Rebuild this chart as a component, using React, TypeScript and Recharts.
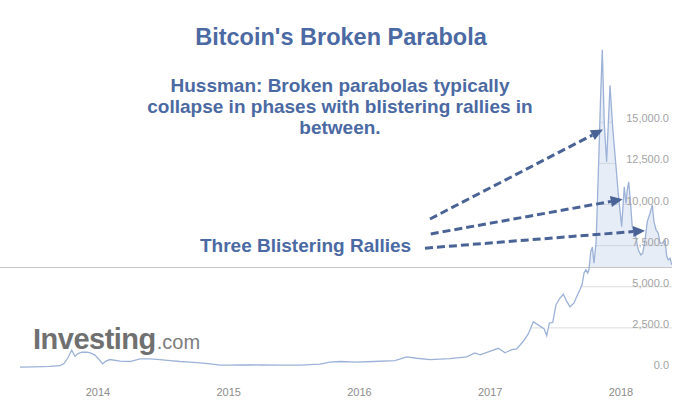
import { ComposedChart, Area, Line, XAxis, YAxis, CartesianGrid, ReferenceLine, ReferenceArea } from 'recharts'

// time in decimal years, price in USD
const times = [
  2013.403, 2013.518, 2013.633, 2013.709, 2013.74, 2013.771, 2013.799, 2013.824, 2013.847, 2013.878,
  2013.916, 2013.946, 2013.977, 2014.008, 2014.036, 2014.061, 2014.092, 2014.168, 2014.245, 2014.321,
  2014.398, 2014.474, 2014.551, 2014.627, 2014.704, 2014.78, 2014.857, 2014.933, 2015.01, 2015.086,
  2015.239, 2015.392, 2015.545, 2015.698, 2015.774, 2015.851, 2015.979, 2016.106, 2016.271, 2016.361,
  2016.437, 2016.539, 2016.692, 2016.82, 2016.883, 2016.922, 2016.985, 2017.062, 2017.113, 2017.164,
  2017.202, 2017.253, 2017.291, 2017.329, 2017.375, 2017.411, 2017.432, 2017.452, 2017.478, 2017.503,
  2017.533, 2017.559, 2017.585, 2017.61, 2017.641, 2017.664, 2017.686, 2017.702, 2017.717, 2017.732,
  2017.745, 2017.755, 2017.768, 2017.781, 2017.793, 2017.809, 2017.82, 2017.832, 2017.843, 2017.857,
  2017.872, 2017.89, 2017.916, 2017.936, 2017.962, 2017.979, 2018.005, 2018.025, 2018.038, 2018.048,
  2018.059, 2018.069, 2018.086, 2018.107, 2018.132, 2018.151, 2018.166, 2018.184, 2018.201, 2018.222,
  2018.239, 2018.252, 2018.268, 2018.285, 2018.298, 2018.316, 2018.337, 2018.35, 2018.362, 2018.375,
  2018.388,
]
const prices = [
  110, 133, 164, 200, 333, 697, 1139, 776, 939, 1018,
  1030, 970, 848, 576, 315, 485, 576, 473, 455, 618,
  618, 576, 515, 455, 412, 376, 315, 230, 230, 255,
  242, 230, 230, 291, 412, 455, 412, 455, 515, 739,
  654, 576, 636, 739, 982, 861, 1042, 1260, 982, 1182,
  1224, 1685, 2133, 2879, 2636, 2454, 2030, 2800, 2836, 3909,
  4315, 4545, 4109, 3769, 4012, 4454, 4818, 5121, 5830, 6030,
  5830, 6030, 7120, 7405, 6436, 7648, 10272, 13300, 16330, 19404,
  14920, 12593, 17241, 14714, 12290, 10678, 8654, 11078, 10072, 10878,
  11381, 10472, 8654, 8254, 7242, 6939, 7042, 7848, 8957, 9466,
  9969, 8957, 8454, 8254, 7648, 7648, 7848, 6836, 6636, 6739,
  6333,
]
const BASE_PRICE = 6170
const yTicks = [0, 2500, 5000, 7500, 10000, 12500, 15000]
const xTicks = [2014, 2015, 2016, 2017, 2018]
const X_START = 2013.2505
const X_END = 2018.39
const Y_TOP = 20000
const subtitleLines = [
  'Hussman: Broken parabolas typically',
  'collapse in phases with blistering rallies in',
  'between.',
]
// arrows: [startTime, startPrice, endTime, endPrice]
const arrows = [
  [2016.539, 9120, 2017.862, 14556],
  [2016.545, 8211, 2018.013, 10314],
  [2016.501, 7345, 2018.184, 8411],
]

const data = times.map((t, i) => ({ t, price: prices[i] }))

const BLUE = '#4b69a3'
const ARROW = '#4a6396'
const FONT = 'Liberation Sans, Arial, sans-serif'

function ArrowShape(props: any) {
  const { x1, y1, x2, y2 } = props
  const dx = x2 - x1
  const dy = y2 - y1
  const len = Math.sqrt(dx * dx + dy * dy)
  const ux = dx / len
  const uy = dy / len
  const head = 12
  const w = 5.5
  const bx = x2 - ux * head
  const by = y2 - uy * head
  return (
    <g>
      <line x1={x1} y1={y1} x2={bx} y2={by} stroke={ARROW} strokeWidth={3} strokeDasharray="8 4" />
      <polygon
        points={`${x2},${y2} ${bx - uy * w},${by + ux * w} ${bx + uy * w},${by - ux * w}`}
        fill={ARROW}
      />
    </g>
  )
}

function YTick({ y, payload }: any) {
  return (
    <text x={669} y={y} textAnchor="end" fontSize={11} fill="#a3a3a3" fontFamily={FONT}>
      {Number(payload.value).toLocaleString('en-US', { minimumFractionDigits: 1, maximumFractionDigits: 1 })}
    </text>
  )
}

function XTick({ x, payload }: any) {
  return (
    <text x={x} y={396} textAnchor="middle" fontSize={11} fill="#8c8c8c" fontFamily={FONT}>
      {payload.value}
    </text>
  )
}

export default function App() {
  return (
    <div style={{ position: 'absolute', left: 0, top: 0, width: 684, height: 419, background: '#fff' }}>
      <ComposedChart width={684} height={419} data={data} margin={{ top: 40, right: 12, bottom: 20, left: 0 }}>
        <CartesianGrid vertical={false} stroke="#dcdcdc" horizontalValues={yTicks.slice(1)} />
        <XAxis
          dataKey="t"
          type="number"
          domain={[X_START, X_END]}
          ticks={xTicks}
          axisLine={false}
          tickLine={false}
          height={30}
          tick={<XTick />}
          allowDataOverflow
        />
        <YAxis
          orientation="right"
          mirror
          domain={[0, Y_TOP]}
          ticks={yTicks}
          axisLine={false}
          tickLine={false}
          tick={<YTick />}
          allowDataOverflow
        />
        <Area
          type="linear"
          dataKey={(d: any) => Math.max(d.price, BASE_PRICE)}
          baseValue={BASE_PRICE}
          stroke="none"
          fill="#b9cbe6"
          fillOpacity={0.35}
          isAnimationActive={false}
        />
        <Area
          type="linear"
          dataKey="price"
          baseValue={Y_TOP}
          stroke="none"
          fill="#ffffff"
          fillOpacity={1}
          isAnimationActive={false}
        />
        <ReferenceArea x1={X_START} x2={times[0]} y1={0} y2={Y_TOP} fill="#ffffff" fillOpacity={1} stroke="none" />
        <ReferenceLine y={BASE_PRICE} stroke="#c6c6c6" strokeWidth={1} />
        <Line
          type="linear"
          dataKey="price"
          stroke="#9cb2d8"
          strokeWidth={1.3}
          dot={false}
          isAnimationActive={false}
        />
        {arrows.map((a, i) => (
          <ReferenceLine
            key={i}
            segment={[{ x: a[0], y: a[1] }, { x: a[2], y: a[3] }]}
            shape={ArrowShape}
            ifOverflow="visible"
          />
        ))}
      </ComposedChart>
      <svg
        width={684}
        height={419}
        style={{ position: 'absolute', left: 0, top: 0, pointerEvents: 'none' }}
        fontFamily={FONT}
      >
        <text x={341} y={45} textAnchor="middle" fontSize={23.5} fontWeight="bold" fill={BLUE}>
          Bitcoin's Broken Parabola
        </text>
        {subtitleLines.map((s, i) => (
          <text key={i} x={340} y={92 + i * 21.2} textAnchor="middle" fontSize={19} fontWeight="bold" fill={BLUE}>
            {s}
          </text>
        ))}
        <text x={200} y={252} fontSize={19} fontWeight="bold" fill={BLUE}>
          Three Blistering Rallies
        </text>
        <text x={33} y={349}>
          <tspan fontSize={29} fontWeight="bold" fill="#707070" letterSpacing={-0.5}>
            Investing
          </tspan>
          <tspan fontSize={20} fill="#7d7d7d" dx={1}>
            .com
          </tspan>
        </text>
      </svg>
    </div>
  )
}
